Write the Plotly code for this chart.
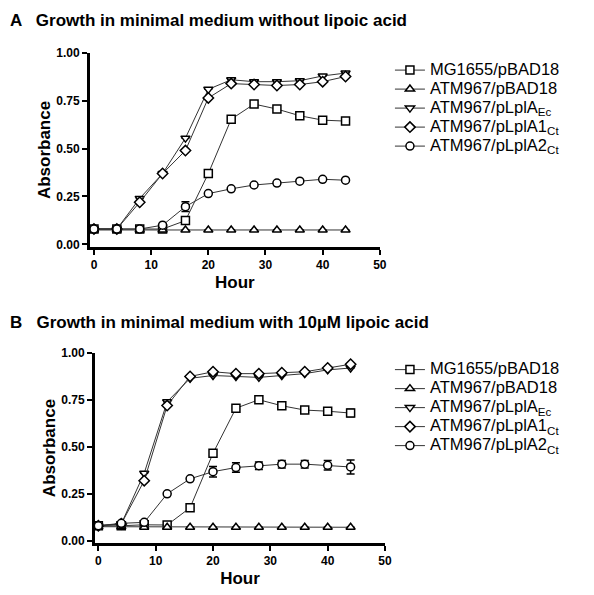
import plotly.graph_objects as go
from plotly.subplots import make_subplots

hours = [0, 4, 8, 12, 16, 20, 24, 28, 32, 36, 40, 44]

names = ['MG1655/pBAD18', 'ATM967/pBAD18', 'ATM967/pLplA<sub>Ec</sub>',
         'ATM967/pLplA1<sub>Ct</sub>', 'ATM967/pLplA2<sub>Ct</sub>']
symbols = ['square', 'triangle-up', 'triangle-down', 'diamond', 'circle']

# panel A: without lipoic acid
a_mg1655 = [0.08, 0.08, 0.08, 0.08, 0.124, 0.37, 0.654, 0.733, 0.707, 0.672, 0.649, 0.644]
a_pbad18 = [0.075, 0.075, 0.075, 0.075, 0.075, 0.075, 0.075, 0.075, 0.075, 0.075, 0.075, 0.075]
a_lpla_ec = [0.08, 0.08, 0.24, 0.37, 0.555, 0.81, 0.86, 0.85, 0.85, 0.855, 0.88, 0.895]
a_lpla1_ct = [0.08, 0.08, 0.22, 0.37, 0.49, 0.765, 0.84, 0.835, 0.83, 0.835, 0.85, 0.877]
a_lpla2_ct = [0.08, 0.08, 0.08, 0.10, 0.197, 0.265, 0.29, 0.31, 0.32, 0.33, 0.34, 0.335]
a_lpla2_err = [0, 0, 0, 0, 0.025, 0, 0, 0, 0, 0, 0, 0]

# panel B: with 10 uM lipoic acid
b_mg1655 = [0.08, 0.08, 0.085, 0.084, 0.176, 0.466, 0.706, 0.751, 0.719, 0.696, 0.69, 0.68]
b_pbad18 = [0.075, 0.075, 0.072, 0.072, 0.072, 0.072, 0.072, 0.072, 0.072, 0.072, 0.072, 0.072]
b_lpla_ec = [0.08, 0.09, 0.36, 0.74, 0.865, 0.88, 0.875, 0.87, 0.88, 0.89, 0.91, 0.92]
b_lpla1_ct = [0.08, 0.09, 0.32, 0.72, 0.875, 0.90, 0.89, 0.89, 0.895, 0.90, 0.92, 0.94]
b_lpla2_ct = [0.08, 0.093, 0.098, 0.25, 0.33, 0.368, 0.39, 0.40, 0.408, 0.408, 0.402, 0.393]
b_mg1655_err = [0, 0, 0, 0, 0, 0, 0, 0, 0, 0, 0.012, 0.02]
b_lpla2_err = [0, 0, 0, 0, 0, 0.028, 0.025, 0.02, 0.02, 0.02, 0.025, 0.037]

none = [0] * len(hours)
panel_a = [(a_mg1655, none), (a_pbad18, none), (a_lpla_ec, none),
           (a_lpla1_ct, none), (a_lpla2_ct, a_lpla2_err)]
panel_b = [(b_mg1655, b_mg1655_err), (b_pbad18, none), (b_lpla_ec, none),
           (b_lpla1_ct, none), (b_lpla2_ct, b_lpla2_err)]

font = 'Arial, Liberation Sans, sans-serif'

fig = make_subplots(rows=2, cols=1)

for row, panel, leg in [(1, panel_a, 'legend'), (2, panel_b, 'legend2')]:
    for name, sym, (vals, err) in zip(names, symbols, panel):
        # larger text than the legend font keeps the rows tight
        label = f'<span style="font-size:16.5px">{name}</span>'
        fig.add_trace(go.Scatter(
            x=hours, y=vals, name=label, mode='lines+markers', legend=leg,
            line=dict(color='#333333', width=1),
            marker=dict(symbol=sym, size=8, color='white',
                        line=dict(color='black', width=1.5)),
            error_y=dict(type='data', array=err, visible=True,
                         color='black', thickness=1.5, width=4),
        ), row=row, col=1)

axis_common = dict(
    showline=True, linecolor='black', linewidth=3, mirror=False,
    ticks='outside', tickwidth=2, ticklen=5, tickcolor='black',
    showgrid=False, zeroline=False, automargin=False,
    tickfont=dict(family=font, size=12, color='black', weight='bold'),
)

fig.update_xaxes(axis_common, range=[-0.7, 50], tickvals=[0, 10, 20, 30, 40, 50],
                 title=dict(text='<b>Hour</b>', font=dict(family=font, size=17, color='black'),
                            standoff=5))
fig.update_yaxes(axis_common, tickvals=[0, 0.25, 0.5, 0.75, 1.0], tickformat='.2f',
                 title=dict(text='<b>Absorbance</b>', font=dict(family=font, size=17, color='black'),
                            standoff=2))

# the page body adds an 8px offset, so domains are shifted by that
fig.update_layout(
    xaxis=dict(domain=[0.138, 0.626], anchor='y'),
    yaxis=dict(domain=[0.5983, 0.9244], range=[-0.014, 1.0]),
    xaxis2=dict(domain=[0.1465, 0.6347], anchor='y2', range=[-0.58, 50]),
    yaxis2=dict(domain=[0.1008, 0.4202], range=[-0.012, 1.0]),
)

legend_style = dict(
    xanchor='left', yanchor='top', bgcolor='rgba(0,0,0,0)',
    font=dict(family=font, size=12, color='black'),
    itemwidth=30, tracegroupgap=0,
)
fig.update_layout(
    legend=dict(legend_style, x=0.643, y=0.92),
    legend2=dict(legend_style, x=0.643, y=0.4166),
)

fig.add_annotation(text='<b>A   Growth in minimal medium without lipoic acid</b>',
                   x=0.0, y=1 - 12 / 595, xref='paper', yref='paper',
                   xanchor='left', yanchor='middle', showarrow=False,
                   font=dict(family=font, size=17, color='black'))
fig.add_annotation(text='<b>B   Growth in minimal medium with 10µM lipoic acid</b>',
                   x=0.0, y=1 - 314 / 595, xref='paper', yref='paper',
                   xanchor='left', yanchor='middle', showarrow=False,
                   font=dict(family=font, size=17, color='black'))

fig.update_layout(
    width=594, height=595,
    margin=dict(l=0, r=0, t=0, b=0),
    paper_bgcolor='white', plot_bgcolor='white',
    showlegend=True,
)

fig.write_html('out.html')
